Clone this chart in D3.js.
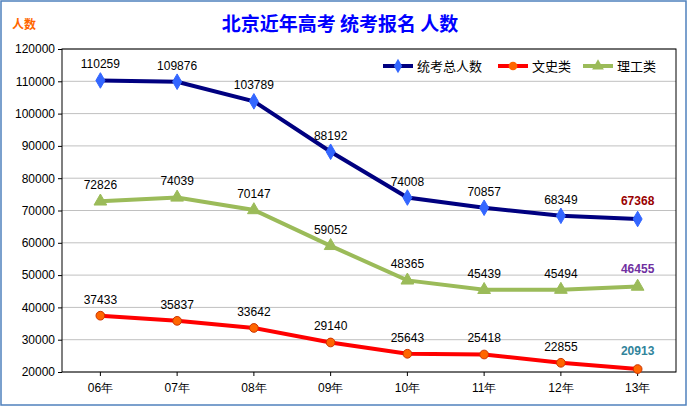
<!DOCTYPE html>
<html><head><meta charset="utf-8">
<script src="https://cdn.jsdelivr.net/npm/d3@7"></script>
<style>body{margin:0;background:#fff}svg{font-family:"Noto Sans CJK SC","DejaVu Sans",sans-serif}</style>
</head><body><svg id="c" width="687" height="406"></svg>
<script>
const years = ["06年","07年","08年","09年","10年","11年","12年","13年"]
const total = [110259,109876,103789,88192,74008,70857,68349,67368]
const wenshi = [37433,35837,33642,29140,25643,25418,22855,20913]
const ligong = [72826,74039,70147,59052,48365,45439,45494,46455]
const yTicks = [20000,30000,40000,50000,60000,70000,80000,90000,100000,110000,120000]

const svg = d3.select("#c")
svg.append("rect").attr("x",1).attr("y",1).attr("width",685).attr("height",404)
  .attr("fill","#fff").attr("stroke","#4f81bd").attr("stroke-width",1.5)

const plotL = 62, plotR = 676, plotT = 49, plotB = 372
const x = d3.scaleBand().domain(years).range([plotL,plotR])
const y = d3.scaleLinear().domain([20000,120000]).range([plotB,plotT])
const cx = d => x(d) + x.bandwidth()/2

svg.append("g").selectAll("line").data(yTicks).join("line")
  .attr("x1",plotL).attr("x2",plotR).attr("y1",d=>y(d)).attr("y2",d=>y(d))
  .attr("stroke","#c0c0c0").attr("stroke-width",1)
svg.append("rect").attr("x",plotL).attr("y",plotT).attr("width",plotR-plotL).attr("height",plotB-plotT)
  .attr("fill","none").attr("stroke","#000")

const ya = svg.append("g").attr("transform",`translate(${plotL},0)`)
  .call(d3.axisLeft(y).tickValues(yTicks).tickSize(4).tickFormat(d3.format("d")))
ya.selectAll("text").attr("font-size",12).attr("fill","#000")
const xa = svg.append("g").attr("transform",`translate(0,${plotB})`)
  .call(d3.axisBottom(x).tickSize(4))
xa.selectAll("text").attr("font-size",12).attr("fill","#000").attr("dy","1.1em")
svg.selectAll(".domain").remove()

svg.append("text").attr("x",340).attr("y",31).attr("text-anchor","middle")
  .attr("font-size",19).attr("font-weight","bold").attr("fill","#0000ff").text("北京近年高考 统考报名 人数")
svg.append("text").attr("x",12).attr("y",29).attr("font-size",12).attr("font-weight","bold")
  .attr("fill","#ff6600").text("人数")

const series = [
  {name:"统考总人数", data:total, line:"#000080", mark:"#3366ff", shape:d3.symbolDiamond, last:"#990000"},
  {name:"文史类", data:wenshi, line:"#ff0000", mark:"#ff6600", shape:d3.symbolCircle, last:"#31849b"},
  {name:"理工类", data:ligong, line:"#9bbb59", mark:"#9bbb59", shape:d3.symbolTriangle, last:"#7030a0"}
]
const line = d3.line().x((d,i)=>cx(years[i])).y(d=>y(d))
series.forEach(s => {
  svg.append("path").datum(s.data).attr("d",line).attr("fill","none")
    .attr("stroke",s.line).attr("stroke-width",4)
  svg.append("g").selectAll("path").data(s.data).join("path")
    .attr("transform",(d,i)=>`translate(${cx(years[i])},${y(d)})`)
    .attr("d",d3.symbol(s.shape,s.shape===d3.symbolCircle?60:70))
    .attr("fill",s.mark).attr("stroke",s.shape===d3.symbolCircle?"#cc3300":s.mark)
  svg.append("g").selectAll("text").data(s.data).join("text")
    .attr("x",(d,i)=>cx(years[i])).attr("y",(d,i)=>i===7?y(d)-14:y(d)-12)
    .attr("text-anchor","middle").attr("font-size",12)
    .attr("font-family","Arial, Liberation Sans, sans-serif")
    .attr("font-weight",(d,i)=>i===7?"bold":"normal")
    .attr("fill",(d,i)=>i===7?s.last:"#000").text(d=>d)
})

const lg = svg.append("g").attr("transform","translate(383,66)")
const lx = [0,115,200]
series.forEach((s,i)=>{
  const g = lg.append("g").attr("transform",`translate(${lx[i]},0)`)
  g.append("line").attr("x1",0).attr("x2",30).attr("stroke",s.line).attr("stroke-width",4)
  g.append("path").attr("transform","translate(15,0)").attr("d",d3.symbol(s.shape,60))
    .attr("fill",s.mark)
  g.append("text").attr("x",34).attr("y",5).attr("font-size",13).text(s.name)
})
</script></body></html>
